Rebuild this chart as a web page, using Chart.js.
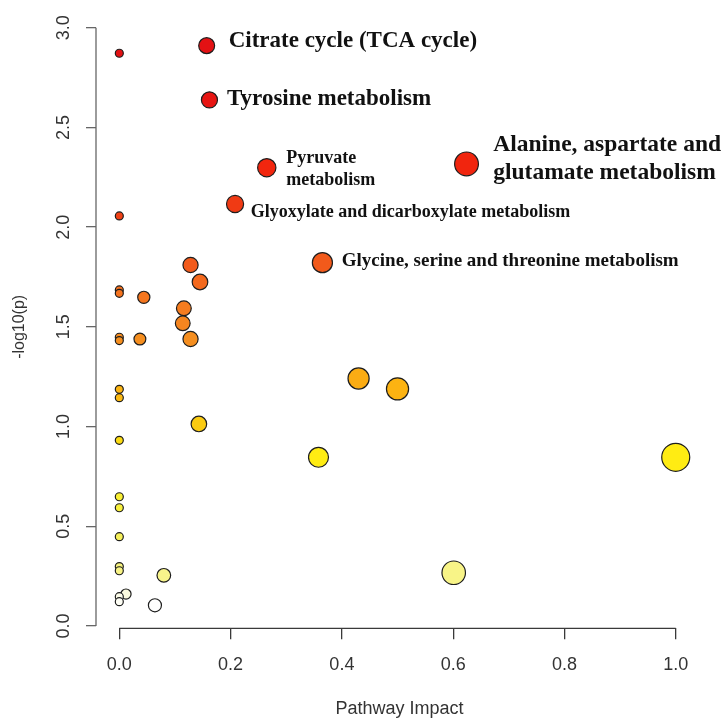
<!DOCTYPE html>
<html>
<head>
<meta charset="utf-8">
<script src="https://cdn.jsdelivr.net/npm/chart.js@4.4.1/dist/chart.umd.min.js"></script>
<style>
html, body { margin: 0; padding: 0; background: #fff; }
#wrap { width: 723px; height: 718px; }
</style>
</head>
<body>
<div id="wrap"><canvas id="myChart" width="723" height="718"></canvas></div>
<script>
// pathway impact (x) and -log10(p) (y)
var impact = [0, 0.157, 0.162, 0.265, 0.624, 0, 0.208, 0.365, 0.128, 0.145,
    0, 0, 0.044, 0.116, 0.114, 0.128, 0.037, 0, 0, 0.430,
    0.500, 0, 0, 0.143, 0, 0.358, 1.0, 0, 0, 0,
    0, 0, 0.080, 0.601, 0.012, 0, 0, 0.064];
var logP = [2.872, 2.910, 2.638, 2.298, 2.317, 2.056, 2.116, 1.822, 1.810, 1.725,
    1.685, 1.668, 1.648, 1.593, 1.518, 1.439, 1.439, 1.448, 1.431, 1.241,
    1.189, 1.187, 1.145, 1.013, 0.931, 0.846, 0.846, 0.648, 0.593, 0.448,
    0.298, 0.277, 0.254, 0.267, 0.160, 0.147, 0.122, 0.104];

var xTicks = [0, 0.2, 0.4, 0.6, 0.8, 1.0];
var yTicks = [0, 0.5, 1.0, 1.5, 2.0, 2.5, 3.0];

// which points get a name
var labelPoint = [1, 2, 3, 6, 7, 4];
var labelText = [
    ['Citrate cycle (TCA cycle)'],
    ['Tyrosine metabolism'],
    ['Pyruvate', 'metabolism'],
    ['Glyoxylate and dicarboxylate metabolism'],
    ['Glycine, serine and threonine metabolism'],
    ['Alanine, aspartate and', 'glutamate metabolism']
];
// font size and offset of each name from its point
var labelStyle = [
    { size: 23, dx: 22, dy: [-5] },
    { size: 23, dx: 17.5, dy: [-1] },
    { size: 18, dx: 19.5, dy: [-9, 12.5] },
    { size: 18, dx: 15.7, dy: [8] },
    { size: 19, dx: 19.4, dy: [-2] },
    { size: 23.5, dx: 26.7, dy: [-18.5, 9] }
];

// heat colours by -log10(p)
var heatStops = [
    [0.10, [255, 255, 255]], [0.15, [252, 252, 232]], [0.25, [248, 244, 140]],
    [0.40, [246, 240, 100]], [0.60, [248, 240, 60]], [0.85, [255, 236, 18]],
    [1.00, [250, 205, 18]], [1.20, [252, 178, 18]], [1.45, [245, 140, 32]],
    [1.65, [245, 118, 30]], [1.80, [242, 92, 28]], [2.10, [240, 60, 20]],
    [2.30, [242, 38, 14]], [2.60, [232, 22, 18]], [3.00, [225, 15, 20]]
];
function heat(v) {
    if (v <= heatStops[0][0]) return 'rgb(' + heatStops[0][1].join(',') + ')';
    for (var i = 1; i < heatStops.length; i++) {
        if (v <= heatStops[i][0]) {
            var a = heatStops[i - 1], b = heatStops[i];
            var t = (v - a[0]) / (b[0] - a[0]);
            var c = a[1].map(function (q, k) { return Math.round(q + (b[1][k] - q) * t); });
            return 'rgb(' + c.join(',') + ')';
        }
    }
    return 'rgb(' + heatStops[heatStops.length - 1][1].join(',') + ')';
}

var points = impact.map(function (x, i) { return { x: x, y: logP[i] }; });

var axisPlugin = {
    id: 'rAxes',
    afterDraw: function (chart) {
        var c = chart.ctx;
        var xs = chart.scales.x, ys = chart.scales.y;
        c.save();
        // R style axis lines, only between first and last tick
        c.lineWidth = 1.3;
        c.strokeStyle = '#3a3a3a';
        c.beginPath();
        c.moveTo(xs.getPixelForValue(xTicks[0]), chart.chartArea.bottom);
        c.lineTo(xs.getPixelForValue(xTicks[xTicks.length - 1]), chart.chartArea.bottom);
        c.stroke();
        c.strokeStyle = '#666';
        c.beginPath();
        c.moveTo(chart.chartArea.left, ys.getPixelForValue(yTicks[0]));
        c.lineTo(chart.chartArea.left, ys.getPixelForValue(yTicks[yTicks.length - 1]));
        c.stroke();

        // y title
        c.fillStyle = '#333';
        c.font = '16px "Liberation Sans", Arial, sans-serif';
        c.textAlign = 'center';
        c.textBaseline = 'middle';
        c.translate(19.5, ys.getPixelForValue(1.5));
        c.rotate(-Math.PI / 2);
        c.fillText('-log10(p)', 0, 0);
        c.restore();

        // pathway names
        var meta = chart.getDatasetMeta(0);
        c.save();
        c.fillStyle = '#111';
        c.textAlign = 'left';
        c.textBaseline = 'middle';
        labelPoint.forEach(function (idx, j) {
            var el = meta.data[idx];
            var st = labelStyle[j];
            c.font = 'bold ' + st.size + 'px "Liberation Serif", "Times New Roman", serif';
            labelText[j].forEach(function (line, k) {
                c.fillText(line, el.x + st.dx, el.y + st.dy[k]);
            });
        });
        c.restore();
    }
};

function noPad(s) {
    s.paddingTop = 0; s.paddingBottom = 0; s.paddingLeft = 0; s.paddingRight = 0;
}

var ctx = document.getElementById('myChart').getContext('2d');
var chart = new Chart(ctx, {
    type: 'bubble',
    data: {
        datasets: [{
            data: points,
            backgroundColor: function (c) { return heat(c.raw.y); },
            borderColor: '#1e1e1e',
            borderWidth: 1.2,
            radius: function (c) { return 4 + 10 * Math.sqrt(c.raw.x); }
        }]
    },
    options: {
        responsive: false,
        animation: false,
        devicePixelRatio: 1,
        events: [],
        layout: { autoPadding: false, padding: { top: 8, right: 20, bottom: 0, left: 0 } },
        plugins: { legend: { display: false }, tooltip: { enabled: false } },
        scales: {
            x: {
                type: 'linear',
                min: -0.0419,
                max: 1.049,
                afterBuildTicks: function (s) { s.ticks = xTicks.map(function (v) { return { value: v }; }); },
                afterFit: function (s) { s.height = 89.7; noPad(s); },
                grid: { drawOnChartArea: false, drawTicks: true, tickLength: 11, color: '#3a3a3a', lineWidth: 1.3 },
                border: { display: false },
                ticks: {
                    padding: 15,
                    color: '#333',
                    font: { size: 18, family: '"Liberation Sans", Arial, sans-serif' },
                    callback: function (v) { return v.toFixed(1); }
                },
                title: {
                    display: true,
                    text: 'Pathway Impact',
                    color: '#333',
                    padding: 0,
                    font: { size: 18, family: '"Liberation Sans", Arial, sans-serif', lineHeight: 1 }
                }
            },
            y: {
                type: 'linear',
                min: -0.0115,
                max: 3.0988,
                afterBuildTicks: function (s) { s.ticks = yTicks.map(function (v) { return { value: v }; }); },
                afterFit: function (s) { s.width = 96; noPad(s); },
                grid: { drawOnChartArea: false, drawTicks: true, tickLength: 10, color: '#666', lineWidth: 1.3 },
                border: { display: false },
                ticks: {
                    minRotation: 90,
                    maxRotation: 90,
                    crossAlign: 'center',
                    padding: 9.5,
                    color: '#333',
                    font: { size: 18, family: '"Liberation Sans", Arial, sans-serif' },
                    callback: function (v) { return v.toFixed(1); }
                }
            }
        }
    },
    plugins: [axisPlugin]
});
</script>
</body>
</html>
